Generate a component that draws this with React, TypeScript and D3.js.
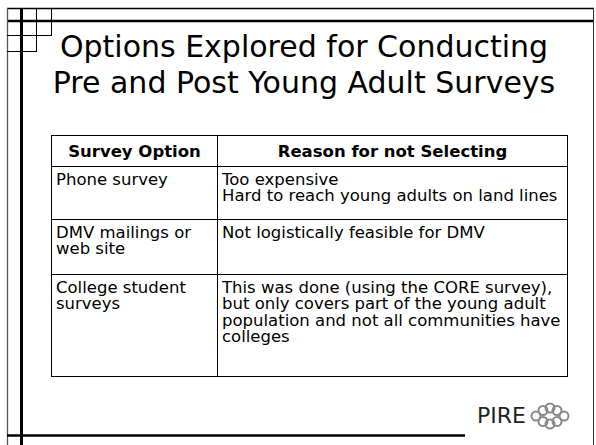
import React from "react";
import * as d3 from "d3";

const titleLines = ["Options Explored for Conducting", "Pre and Post Young Adult Surveys"];
const headers = ["Survey Option", "Reason for not Selecting"];
const options = [
  ["Phone survey"],
  ["DMV mailings or", "web site"],
  ["College student", "surveys"],
];
const reasons = [
  ["Too expensive", "Hard to reach young adults on land lines"],
  ["Not logistically feasible for DMV"],
  [
    "This was done (using the CORE survey),",
    "but only covers part of the young adult",
    "population and not all communities have",
    "colleges",
  ],
];
const footer = "PIRE";

const W = 596;
const H = 445;
const FONT = "Verdana, 'DejaVu Sans', sans-serif";

// layout
const tableLeft = 51.5;
const tableRight = 567.5;
const colDiv = 217.5;
const rowEdges = [135.5, 166.5, 219.5, 274.5, 376.5];
const lineH = 16.5;
const cellFont = 16.5;

export default function App() {
  const x = d3.scaleLinear().domain([0, 1, 2]).range([tableLeft, colDiv, tableRight]);
  const y = d3.scaleOrdinal<number, number>().domain(d3.range(rowEdges.length)).range(rowEdges);

  const knot = [
    { cx: -7, cy: -5.5 },
    { cx: 7, cy: -5.5 },
    { cx: -7, cy: 5.5 },
    { cx: 7, cy: 5.5 },
    { cx: -14, cy: 0 },
    { cx: 14, cy: 0 },
    { cx: 0, cy: -8 },
    { cx: 0, cy: 8 },
  ];

  const cell = (lines: string[], col: number, r: number, key: string) => {
    const cx = x(col) + 4.5;
    return (
      <text key={key} x={cx} y={y(r + 1) + 18} fontFamily={FONT} fontSize={cellFont} fill="#000">
        {lines.map((t, k) => (
          <tspan key={k} x={cx} dy={k === 0 ? 0 : lineH}>
            {t}
          </tspan>
        ))}
      </text>
    );
  };

  return (
    <svg
      width={W}
      height={H}
      style={{ position: "absolute", left: 0, top: 0, background: "#fff" }}
    >
      <rect x={0} y={0} width={W} height={H} fill="#fff" />
      {/* frame lines */}
      <line x1={7} x2={594} y1={8.5} y2={8.5} stroke="#000" strokeWidth={1.5} />
      <line x1={7} x2={594} y1={21} y2={21} stroke="#000" strokeWidth={2.5} />
      <line x1={7.5} x2={7.5} y1={8} y2={H} stroke="#555" strokeWidth={1.3} />
      <line x1={21.5} x2={21.5} y1={8} y2={H} stroke="#000" strokeWidth={3} />
      <line x1={593.5} x2={593.5} y1={8} y2={H} stroke="#333" strokeWidth={1} />
      <line x1={7} x2={465} y1={435.5} y2={435.5} stroke="#000" strokeWidth={2.5} />
      {/* corner grid */}
      <line x1={36.5} x2={36.5} y1={8} y2={51} stroke="#000" strokeWidth={1} />
      <line x1={51.5} x2={51.5} y1={8} y2={35} stroke="#000" strokeWidth={1} />
      <line x1={7} x2={52} y1={35.5} y2={35.5} stroke="#000" strokeWidth={1} />
      <line x1={7} x2={37} y1={51.5} y2={51.5} stroke="#000" strokeWidth={1} />

      {/* title */}
      {titleLines.map((t, i) => (
        <text
          key={i}
          x={304}
          y={57 + i * 36}
          textAnchor="middle"
          fontFamily={FONT}
          fontSize={30}
          fill="#000"
        >
          {t}
        </text>
      ))}

      {/* table */}
      <rect
        x={tableLeft}
        y={rowEdges[0]}
        width={tableRight - tableLeft}
        height={rowEdges[rowEdges.length - 1] - rowEdges[0]}
        fill="none"
        stroke="#000"
        strokeWidth={1}
      />
      {rowEdges.slice(1, -1).map((ry, i) => (
        <line key={i} x1={tableLeft} x2={tableRight} y1={ry} y2={ry} stroke="#000" strokeWidth={1} />
      ))}
      <line x1={colDiv} x2={colDiv} y1={rowEdges[0]} y2={rowEdges[rowEdges.length - 1]} stroke="#000" strokeWidth={1} />

      {headers.map((h, i) => (
        <text
          key={h}
          x={(x(i) + x(i + 1)) / 2}
          y={y(0) + 21}
          textAnchor="middle"
          fontFamily={FONT}
          fontWeight="bold"
          fontSize={cellFont}
        >
          {h}
        </text>
      ))}
      {options.map((lines, r) => cell(lines, 0, r, `o${r}`))}
      {reasons.map((lines, r) => cell(lines, 1, r, `r${r}`))}

      {/* footer logo */}
      <text x={477} y={423} fontFamily="'DejaVu Sans', sans-serif" fontSize={22} fill="#222">
        {footer}
      </text>
      <g transform="translate(550,416)" fill="none" stroke="#8a8a8a" strokeWidth={2}>
        {knot.map((k, i) => (
          <circle key={i} cx={k.cx} cy={k.cy} r={4.5} />
        ))}
      </g>
    </svg>
  );
}
